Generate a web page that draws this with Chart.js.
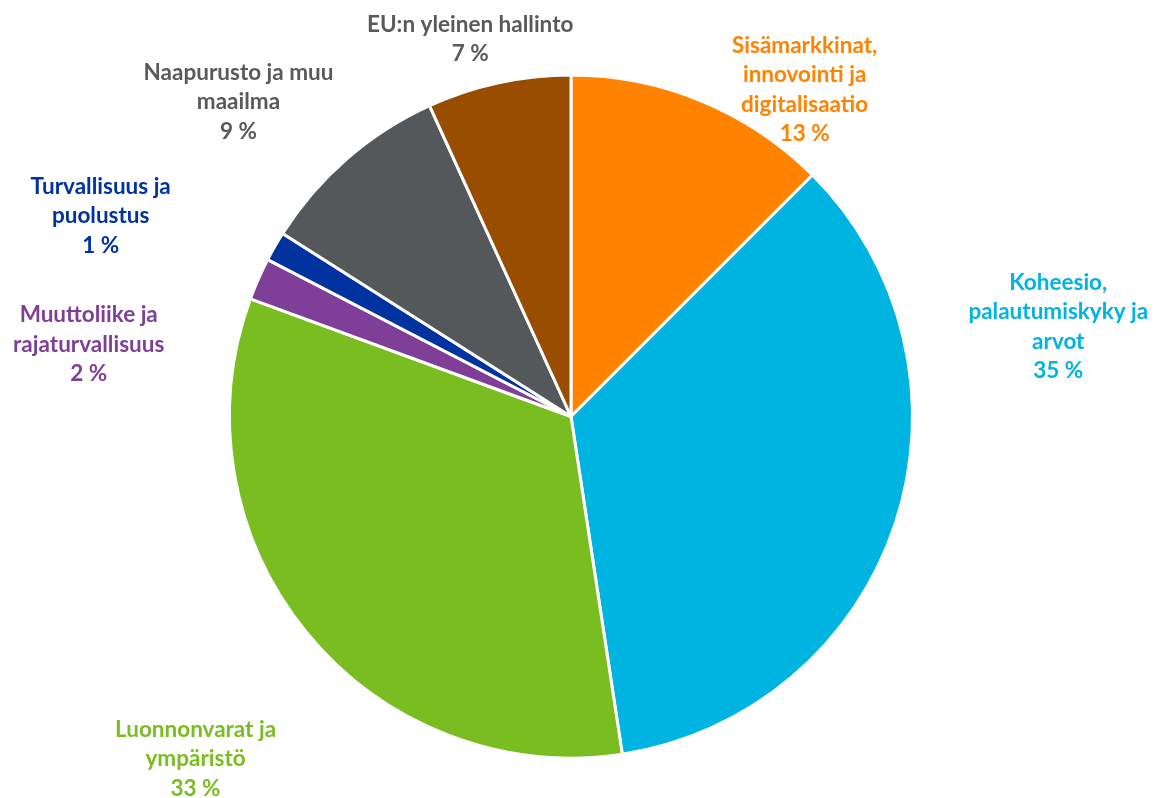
<!DOCTYPE html>
<html>
<head>
<meta charset="utf-8">
<script src="https://cdn.jsdelivr.net/npm/chart.js@4/dist/chart.umd.min.js"></script>
<style>
  html, body { margin: 0; padding: 0; background: #fff; }
  #wrap { width: 1155px; height: 798px; }
</style>
</head>
<body>
<div id="wrap"><canvas id="pie"></canvas></div>
<script>
const categories = [
  ['Sisämarkkinat,', 'innovointi ja', 'digitalisaatio'],
  ['Koheesio,', 'palautumiskyky ja', 'arvot'],
  ['Luonnonvarat ja', 'ympäristö'],
  ['Muuttoliike ja', 'rajaturvallisuus'],
  ['Turvallisuus ja', 'puolustus'],
  ['Naapurusto ja muu', 'maailma'],
  ['EU:n yleinen hallinto']
];
const shares = [12.5, 35.1, 33.0, 2.0, 1.4, 9.2, 6.8];

const sliceColors = ['#FF8200', '#00B4E1', '#7ABD21', '#7F3F98', '#0033A0', '#54585A', '#994D00'];
const labelColors = ['#FF8200', '#00B4E1', '#7ABD21', '#7F3F98', '#0033A0', '#595959', '#595959'];
// label block centre, relative to pie centre (px at radius 342)
const labelOffsets = [[234, -327], [488, -90], [-376, 343], [-483, -72], [-471, -201], [-333, -315], [-101, -378]];

const labelPlugin = {
  id: 'sliceLabels',
  afterDraw(chart) {
    const ctx = chart.ctx;
    const arcs = chart.getDatasetMeta(0).data;
    ctx.save();
    ctx.font = 'bold 22.5px Lato';
    ctx.textAlign = 'center';
    ctx.textBaseline = 'middle';
    const lineH = 29.5;
    arcs.forEach((arc, i) => {
      const k = arc.outerRadius / 342;
      const cx = arc.x + labelOffsets[i][0] * k;
      const cy = arc.y + labelOffsets[i][1] * k;
      const lines = [...categories[i], Math.round(shares[i]) + ' %'];
      const top = cy - (lines.length - 1) * lineH / 2;
      ctx.fillStyle = labelColors[i];
      lines.forEach((ln, j) => ctx.fillText(ln, cx, top + j * lineH));
    });
    ctx.restore();
  }
};

new Chart(document.getElementById('pie'), {
  type: 'pie',
  data: {
    labels: categories.map(c => c.join(' ')),
    datasets: [{
      data: shares,
      backgroundColor: sliceColors,
      borderColor: '#ffffff',
      borderWidth: 3
    }]
  },
  options: {
    responsive: true,
    maintainAspectRatio: false,
    animation: false,
    layout: { padding: { top: 73, bottom: 38, left: 228, right: 241 } },
    plugins: { legend: { display: false }, tooltip: { enabled: false } }
  },
  plugins: [labelPlugin]
});
</script>
</body>
</html>
